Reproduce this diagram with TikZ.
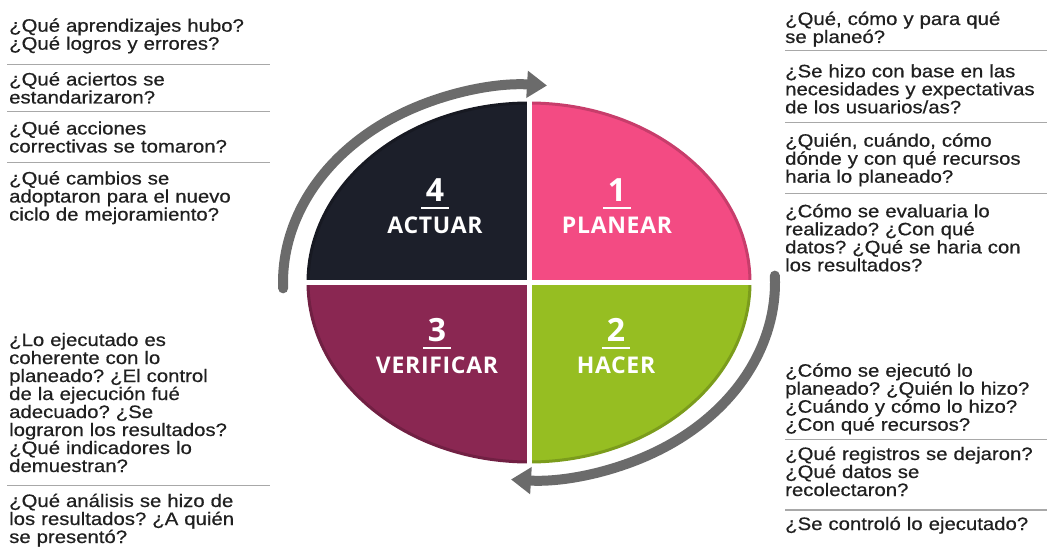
\documentclass[tikz,border=0pt]{standalone}
\usepackage{fontspec}
\setmainfont{Liberation Sans}
\newfontfamily\askfont[FakeStretch=1.13, FakeBold=0.6]{Liberation Sans}
\newfontfamily\stepfont[LetterSpace=3]{Open Sans}
\usetikzlibrary{arrows.meta}

\definecolor{qpink}{HTML}{F34B83}
\definecolor{qnavy}{HTML}{1C1F2A}
\definecolor{qwine}{HTML}{8A2752}
\definecolor{qlime}{HTML}{96BE22}
\definecolor{cyclegray}{HTML}{6B6B6B}
\definecolor{rulegray}{HTML}{A8A8A8}
\definecolor{asktext}{HTML}{202020}

\begin{document}
\begin{tikzpicture}[x=1pt, y=1pt,
  ask/.style={anchor=base west, inner sep=0pt, text width=280pt, align=left,
    text=asktext, font=\askfont\fontsize{18}{18}\selectfont\frenchspacing},
  rule/.style={draw=rulegray, line width=1.3pt},
  cyc/.style={draw=cyclegray, line width=10pt, line cap=round,
    -{Triangle[length=20pt, width=26pt]}},
  num/.style={anchor=base, text=white, font=\stepfont\bfseries\fontsize{32}{32}\selectfont},
  lab/.style={anchor=base, text=white, font=\stepfont\bfseries\fontsize{23}{23}\selectfont}]
  \useasboundingbox (0,0) rectangle (1047,550);
  \coordinate (ctr) at (529,267.5);

  % the four quarters of the cycle
  \foreach \a/\c in {0/qpink, 90/qnavy, 180/qwine, 270/qlime}
    \filldraw[fill=\c, draw=\c!82!black, line width=3pt] (ctr) -- ++(\a:221pt and 179.5pt)
      arc[start angle=\a, delta angle=90, x radius=221, y radius=179.5] -- cycle;
  \draw[white, line width=5pt] (ctr) ++(0,186) -- ++(0,-372);
  \draw[white, line width=5pt] (ctr) ++(-227,0) -- ++(454,0);

  % turning arrows
  \draw[cyc] (ctr) ++(181.7:246pt and 197.5pt)
    arc[start angle=181.7, end angle=85.8, x radius=246, y radius=197.5];
  \draw[cyc] (ctr) ++(2:246pt and 197.5pt)
    arc[start angle=2, end angle=-94.2, x radius=246, y radius=197.5];

  % step numbers and names
  \foreach \i/\x/\y/\txt in {1/617/348.5/PLANEAR, 2/616/208.3/HACER,
                             3/437/208.3/VERIFICAR, 4/435/348.5/ACTUAR} {
    \node[num] (n\i) at (\x,\y) {\i};
    \draw[white, line width=2.2pt] ([xshift=-14pt, yshift=-6.5pt]n\i.base)
      -- ([xshift=14pt, yshift=-6.5pt]n\i.base);
    \node[lab] (l\i) at (\x,\y-31.7) {\txt};
  }

  % questions, left side
  \node[ask] (aprend) at (9,518.3) {¿Qué aprendizajes hubo?\\¿Qué logros y errores?};
  \draw[rule] (7,485.7) -- (270,485.7);
  \node[ask] (aciertos) at (9,464.5) {¿Qué aciertos se\\estandarizaron?};
  \draw[rule] (7,438.3) -- (270,438.3);
  \node[ask] (acciones) at (9,415.5) {¿Qué acciones\\correctivas se tomaron?};
  \draw[rule] (7,387.7) -- (270,387.7);
  \node[ask] (cambios) at (9,365.5) {¿Qué cambios se\\adoptaron para el nuevo\\ciclo de mejoramiento?};
  \node[ask] (coherente) at (9,204) {¿Lo ejecutado es\\coherente con lo\\planeado? ¿El control\\de la ejecución fué\\adecuado? ¿Se\\lograron los resultados?\\¿Qué indicadores lo\\demuestran?};
  \draw[rule] (7,64.3) -- (270,64.3);
  \node[ask] (analisis) at (9,43) {¿Qué análisis se hizo de\\los resultados? ¿A quién\\se presentó?};

  % questions, right side
  \node[ask] (paraque) at (785,525) {¿Qué, cómo y para qué\\se planeó?};
  \draw[rule] (785,499.3) -- (1047,499.3);
  \node[ask] (usuarios) at (785,472.7) {¿Se hizo con base en las\\necesidades y expectativas\\de los usuarios/as?};
  \draw[rule] (785,427.3) -- (1047,427.3);
  \node[ask] (quien) at (785,403.3) {¿Quién, cuándo, cómo\\dónde y con qué recursos\\haria lo planeado?};
  \draw[rule] (785,356.7) -- (1047,356.7);
  \node[ask] (evaluar) at (785,332.7) {¿Cómo se evaluaria lo\\realizado? ¿Con qué\\datos? ¿Qué se haria con\\los resultados?};
  \node[ask] (ejecuto) at (785,173.3) {¿Cómo se ejecutó lo\\planeado? ¿Quién lo hizo?\\¿Cuándo y cómo lo hizo?\\¿Con qué recursos?};
  \draw[rule] (785,110.7) -- (1047,110.7);
  \node[ask] (registros) at (785,90) {¿Qué registros se dejaron?\\¿Qué datos se\\recolectaron?};
  \draw[rule] (785,40) -- (1047,40);
  \node[ask] (control) at (785,20) {¿Se controló lo ejecutado?};
\end{tikzpicture}
\end{document}
